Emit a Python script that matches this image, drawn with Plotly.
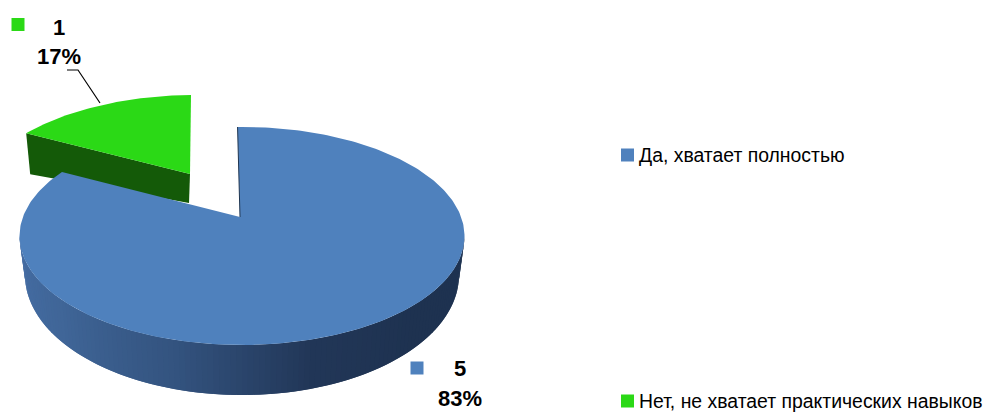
import numpy as np
import plotly.graph_objects as go

categories = ["Да, хватает полностью", "Нет, не хватает практических навыков"]
values = [5, 1]
percents = ["83%", "17%"]
colors = ["#4F81BD", "#2BD916"]
side_dark_green = "#145A08"

total = sum(values)
sweep = [2 * np.pi * v / total for v in values]
FONT = "Liberation Sans Narrow, Arial Narrow, Liberation Sans, sans-serif"


def rim(cx, cy, rx, ry, a0, a1, n=160):
    t = np.linspace(a0, a1, n)
    return cx + rx * np.sin(t), cy - ry * np.cos(t)


def poly(fig, x, y, color, lw=0):
    fig.add_trace(go.Scatter(
        x=list(x), y=list(y), fill="toself", fillcolor=color, mode="lines",
        line=dict(width=lw, color=color), hoverinfo="skip", showlegend=False))


fig = go.Figure()

PERSPECTIVE = 1.02  # apparent stretch of the cut angle

# green slice (exploded)
a0 = sweep[0] * 1.035
a1 = sum(sweep) - 0.018
gx, gy = rim(195, 204, 222, 109, a0, a1, 60)
apex_g = (190, 174)
poly(fig, [gx[0], apex_g[0], apex_g[0] - 1, gx[0] + 4, gx[0]],
     [gy[0], apex_g[1], apex_g[1] + 29, gy[0] + 41, gy[0]], side_dark_green)
poly(fig, [apex_g[0], *gx, apex_g[0]], [apex_g[1], *gy, apex_g[1]], colors[1])

# blue outer wall with gradient
n_seg = 120
ts = np.linspace(np.pi / 2, 3 * np.pi / 2, n_seg + 1)
stops = np.array([[30, 50, 80], [30, 50, 80], [34, 55, 88], [52, 84, 128], [64, 102, 152], [70, 110, 165]])
for i in range(n_seg):
    ta, tb = ts[i], ts[min(i + 2, n_seg)]
    xa, ya = rim(242, 236, 222.5, 109, ta, tb, 4)
    xb, yb = rim(242, 275, 217, 120, ta, tb, 4)
    pos = (i + 0.5) / n_seg * (len(stops) - 1)
    j = min(int(pos), len(stops) - 2)
    col = stops[j] + (stops[j + 1] - stops[j]) * (pos - j)
    poly(fig, [*xa, *xb[::-1], xa[0]], [*ya, *yb[::-1], ya[0]],
         "rgb(%d,%d,%d)" % tuple(col))

# blue top face
apex_b = (240, 217)
bx, by = rim(242, 236, 222.5, 109, -0.02, sweep[0] * PERSPECTIVE, 300)
poly(fig, [apex_b[0], *bx, apex_b[0]], [apex_b[1], *by, apex_b[1]], colors[0])

# thin dark inner edge of the blue cut
fig.add_trace(go.Scatter(x=[bx[0], apex_b[0]], y=[by[0], apex_b[1]], mode="lines",
                         line=dict(color="#1F3550", width=1),
                         hoverinfo="skip", showlegend=False))

# leader line
fig.add_trace(go.Scatter(x=[67, 78, 100], y=[70, 70, 103], mode="lines",
                         line=dict(color="#000", width=1.2),
                         hoverinfo="skip", showlegend=False))

# data labels
for x, y, txt in [(59, 27, str(values[1])), (59, 56, percents[1]),
                  (460, 368, str(values[0])), (460, 398, percents[0])]:
    fig.add_annotation(x=x, y=y, text=f"<b>{txt}</b>", showarrow=False,
                       font=dict(family=FONT, size=22, color="#000"))
for (sx, sy), col in [((18, 24.5), colors[1]), ((417, 368), colors[0])]:
    fig.add_trace(go.Scatter(x=[sx], y=[sy], mode="markers",
                             marker=dict(symbol="square", size=13, color=col, line=dict(width=0)),
                             hoverinfo="skip", showlegend=False))

# legend entries
for cat, col, ly in zip(categories, colors, [155, 401]):
    fig.add_trace(go.Scatter(x=[627.5], y=[ly], mode="markers", name=cat,
                             marker=dict(symbol="square", size=13, color=col, line=dict(width=0)),
                             hoverinfo="name", showlegend=False))
    fig.add_annotation(x=637, y=ly, text=cat, showarrow=False, xanchor="left",
                       font=dict(family=FONT, size=19.4, color="#000"))

# the page offsets the figure by its 8 px body margin: the figure fills what is left
fig.update_layout(
    width=986, height=404, margin=dict(l=0, r=0, t=0, b=0, autoexpand=False),
    paper_bgcolor="white", plot_bgcolor="white", showlegend=False,
    xaxis=dict(range=[8, 994], visible=False, fixedrange=True),
    yaxis=dict(range=[412, 8], visible=False, fixedrange=True),
)
fig.write_html("out.html")
